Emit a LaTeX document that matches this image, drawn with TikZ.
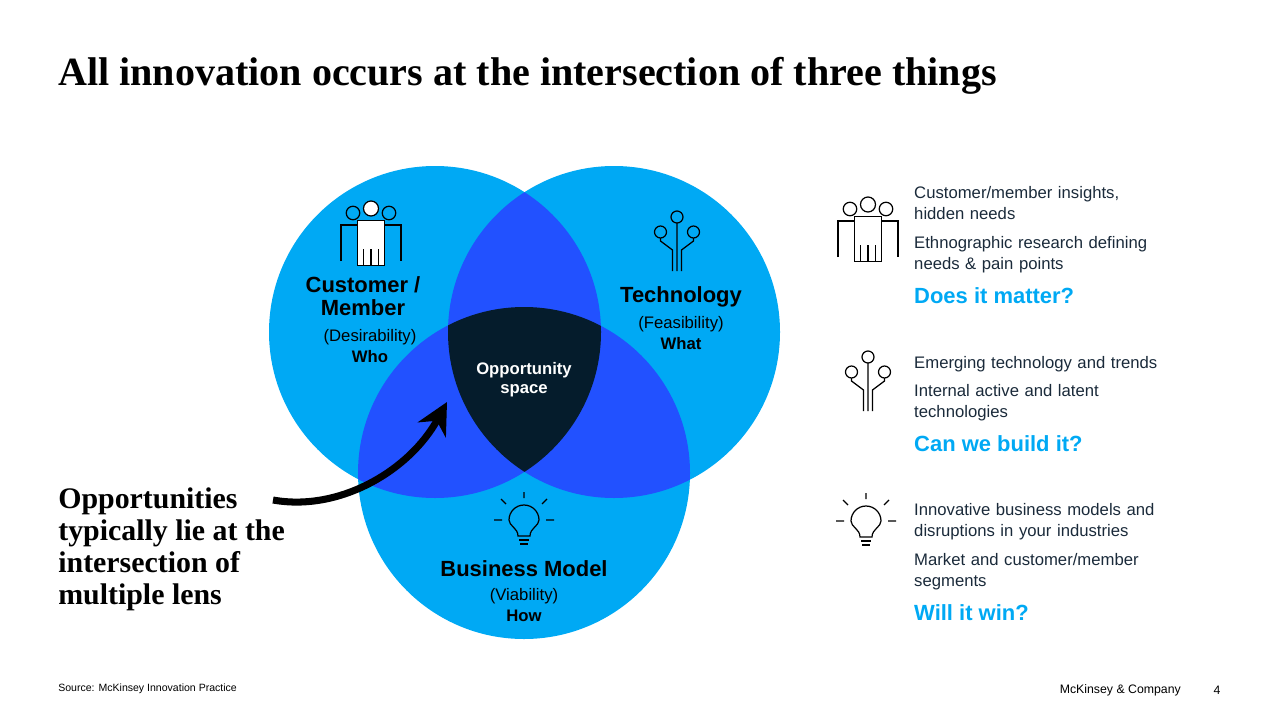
\documentclass[tikz,border=0pt]{standalone}
\usepackage{fontspec}
\setmainfont{Liberation Sans}
\newfontfamily\serifbold{Liberation Serif}
\usetikzlibrary{arrows.meta}
\definecolor{lblue}{HTML}{00A9F4}
\definecolor{mblue}{HTML}{2251FF}
\definecolor{navy}{HTML}{051C2C}
\definecolor{txt}{HTML}{1A2A3A}
\tikzset{
  lens/.style={fill=lblue},
  head/.style={font=\bfseries\fontsize{12.5}{14}\selectfont, align=center},
  sub/.style={font=\fontsize{9.5}{11}\selectfont, align=center},
  side/.style={font=\fontsize{9.5}{12}\selectfont, text=txt, anchor=north west, align=left, text width=6cm},
  ask/.style={font=\bfseries\fontsize{12.5}{14}\selectfont, text=lblue, anchor=north west},
  icon/.style={line width=0.7pt}
}
\newcommand{\people}[1]{%
  \begin{scope}[shift={#1}, icon, scale=1.5]
    \foreach \dx in {-12,12}{
      \draw (\dx,-14) circle (4.5);
      \draw (\dx-8,18) -- (\dx-8,-6) -- (\dx+8,-6) -- (\dx+8,18);
    }
    \draw[fill=white] (0,-17) circle (5);
    \draw[fill=white] (-9,21) -- (-9,-9) -- (9,-9) -- (9,21) -- cycle;
    \draw (-5,21) -- (-5,10) (5,21) -- (5,10) (0,21) -- (0,10);
  \end{scope}}
\newcommand{\techicon}[1]{%
  \begin{scope}[shift={#1}, icon, scale=1.5]
    \draw (0,-14) circle (4) (-11,-4) circle (4) (11,-4) circle (4);
    \draw (0,-10) -- (0,22) (-3,22) -- (-3,8) -- (-11,2) -- (-11,0)
          (3,22) -- (3,8) -- (11,2) -- (11,0);
  \end{scope}}
\newcommand{\bulb}[1]{%
  \begin{scope}[shift={#1}, icon]
    \draw (-6,10) .. controls (-6,2) and (-15,0) .. (-15,-6) arc (180:360:15) .. controls (15,0) and (6,2) .. (6,10) -- cycle;
    \draw (-5,14) -- (5,14) (-4,18) -- (4,18);
    \draw (-30,-6) -- (-22,-6) (22,-6) -- (30,-6) (0,-28) -- (0,-34)
          (-18,-22) -- (-23,-27) (18,-22) -- (23,-27);
  \end{scope}}
\begin{document}
\begin{tikzpicture}[x=0.02cm, y=-0.02cm]
\useasboundingbox (0,0) rectangle (1280,720);
\node[anchor=west, inner sep=0pt, font=\serifbold\bfseries\fontsize{22.8}{26}\selectfont] (title) at (58,76) {All innovation occurs at the intersection of three things};

% circles
\coordinate (cust) at (435,332);
\coordinate (tech) at (614,332);
\coordinate (biz) at (524,473);
\fill[lens] (cust) circle (166);
\fill[lens] (tech) circle (166);
\fill[lens] (biz) circle (166);
\begin{scope}
  \clip (cust) circle (166);
  \fill[mblue] (tech) circle (166);
  \fill[mblue] (biz) circle (166);
\end{scope}
\begin{scope}
  \clip (tech) circle (166);
  \fill[mblue] (biz) circle (166);
  \clip (cust) circle (166);
  \fill[navy] (biz) circle (166);
\end{scope}

\node[head] (custlbl) at (363,296) {Customer /\\[-1pt]Member};
\node[sub] (custsub) at (370,346) {(Desirability)\\[1pt]\textbf{Who}};
\node[head] (techlbl) at (681,297) {Technology};
\node[sub] (techsub) at (681,333) {(Feasibility)\\[1pt]\textbf{What}};
\node[head] (bizlbl) at (524,569) {Business Model};
\node[sub] (bizsub) at (524,605) {(Viability)\\[1pt]\textbf{How}};
\node[font=\bfseries\fontsize{9.5}{11}\selectfont, text=white, align=center] (opp) at (524,380) {Opportunity\\space};

\people{(371,234)}
\techicon{(677,238)}
\bulb{(524,526)}

% callout
\node[anchor=north west, inner sep=0pt, align=left, font=\serifbold\bfseries\fontsize{17}{18.3}\selectfont] (note) at (58,487) {Opportunities\\typically lie at the\\intersection of\\multiple lens};
\coordinate (tip) at (447,402);
\draw[line width=4pt, -{Stealth[length=18pt,width=18pt]}] (273,500) .. controls (340,512) and (410,470) .. (tip);

% right column
\people{(868,230)}
\node[side] (s1) at (908,180) {Customer/member insights,\\hidden needs};
\node[side] (s2) at (908,230) {Ethnographic research defining\\needs \& pain points};
\node[ask] (q1) at (908,281) {Does it matter?};
\techicon{(868,378)}
\node[side] (s3) at (908,350) {Emerging technology and trends};
\node[side] (s4) at (908,378) {Internal active and latent\\technologies};
\node[ask] (q2) at (908,429) {Can we build it?};
\bulb{(866,527)}
\node[side] (s5) at (908,497) {Innovative business models and\\disruptions in your industries};
\node[side] (s6) at (908,547) {Market and customer/member\\segments};
\node[ask] (q3) at (908,598) {Will it win?};

% footer
\node[anchor=west, inner sep=0pt, font=\fontsize{6}{7}\selectfont] (src) at (58,689) {Source: McKinsey Innovation Practice};
\node[anchor=east, font=\fontsize{7}{8}\selectfont] (mck) at (1187,690) {McKinsey \& Company};
\node[font=\fontsize{7}{8}\selectfont] (pg) at (1217,690) {4};
\end{tikzpicture}
\end{document}
